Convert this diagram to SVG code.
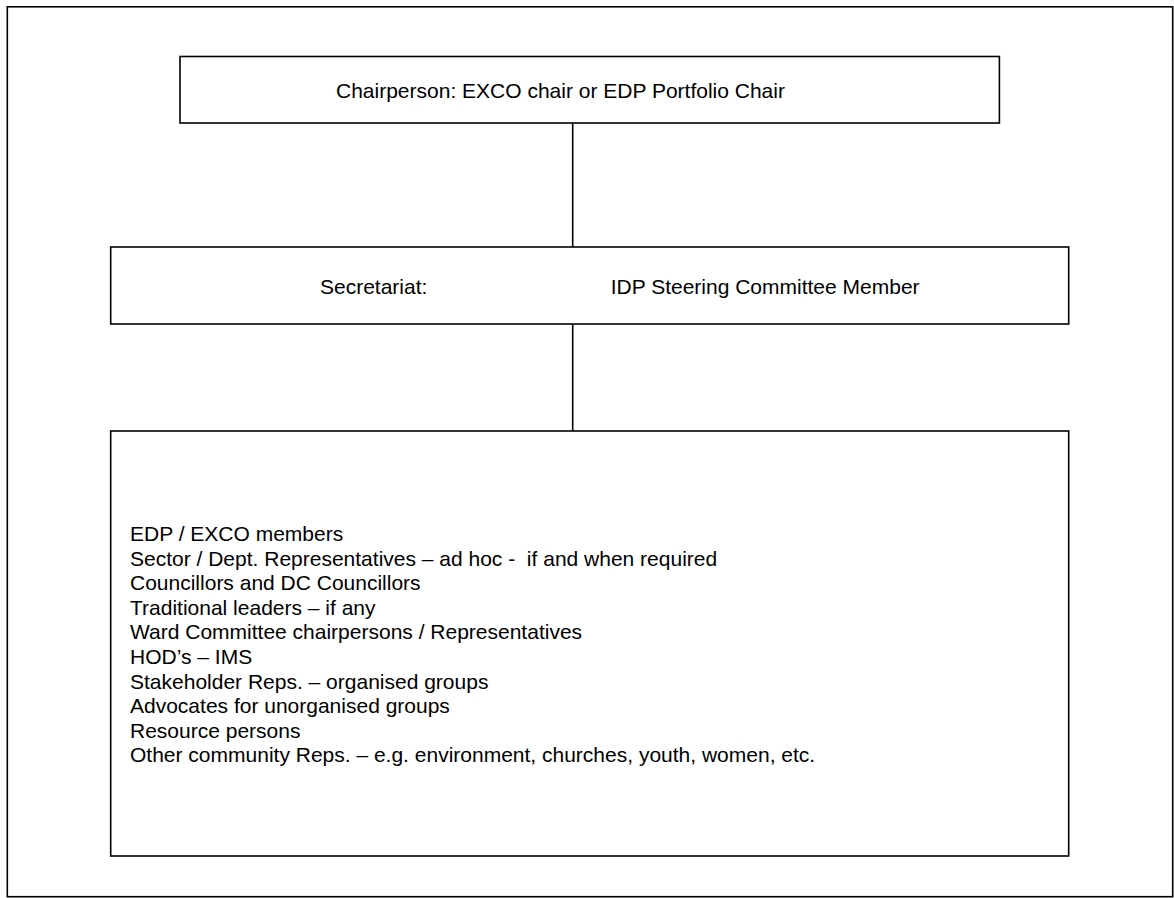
<svg xmlns="http://www.w3.org/2000/svg" width="1174" height="898" viewBox="0 0 1174 898">
  <style>
    .box { fill: #ffffff; stroke: #000000; stroke-width: 1.6; }
    .frame { fill: #ffffff; stroke: #000000; stroke-width: 1.6; }
    .link { stroke: #000000; stroke-width: 1.6; fill: none; }
    .label { font-family: "Liberation Sans", Arial, sans-serif; font-size: 21px; fill: #000000; }
  </style>

  <!-- page frame -->
  <rect class="frame" x="7.3" y="6.8" width="1165.4" height="889.9"/>

  <!-- connectors -->
  <g id="connectors">
    <line class="link" x1="572.7" y1="123" x2="572.7" y2="247"/>
    <line class="link" x1="572.7" y1="324" x2="572.7" y2="431"/>
  </g>

  <!-- chairperson -->
  <g id="node-chair">
    <rect class="box" x="180" y="56.5" width="819.4" height="66.5"/>
    <text class="label" x="336" y="97.5">Chairperson: EXCO chair or EDP Portfolio Chair</text>
  </g>

  <!-- secretariat -->
  <g id="node-secretariat">
    <rect class="box" x="110.7" y="247" width="958" height="77"/>
    <text class="label" x="320" y="294">Secretariat:</text>
    <text class="label" x="610.7" y="294">IDP Steering Committee Member</text>
  </g>

  <!-- forum members -->
  <g id="node-members">
    <rect class="box" x="110.7" y="431" width="958" height="425"/>
    <text class="label" x="130" y="541">
      <tspan x="130" dy="0">EDP / EXCO members</tspan>
      <tspan x="130" dy="24.6" style="white-space:pre">Sector / Dept. Representatives – ad hoc -  if and when required</tspan>
      <tspan x="130" dy="24.6">Councillors and DC Councillors</tspan>
      <tspan x="130" dy="24.6">Traditional leaders – if any</tspan>
      <tspan x="130" dy="24.6">Ward Committee chairpersons / Representatives</tspan>
      <tspan x="130" dy="24.6">HOD’s – IMS</tspan>
      <tspan x="130" dy="24.6">Stakeholder Reps. – organised groups</tspan>
      <tspan x="130" dy="24.6">Advocates for unorganised groups</tspan>
      <tspan x="130" dy="24.6">Resource persons</tspan>
      <tspan x="130" dy="24.6">Other community Reps. – e.g. environment, churches, youth, women, etc.</tspan>
    </text>
  </g>
</svg>
